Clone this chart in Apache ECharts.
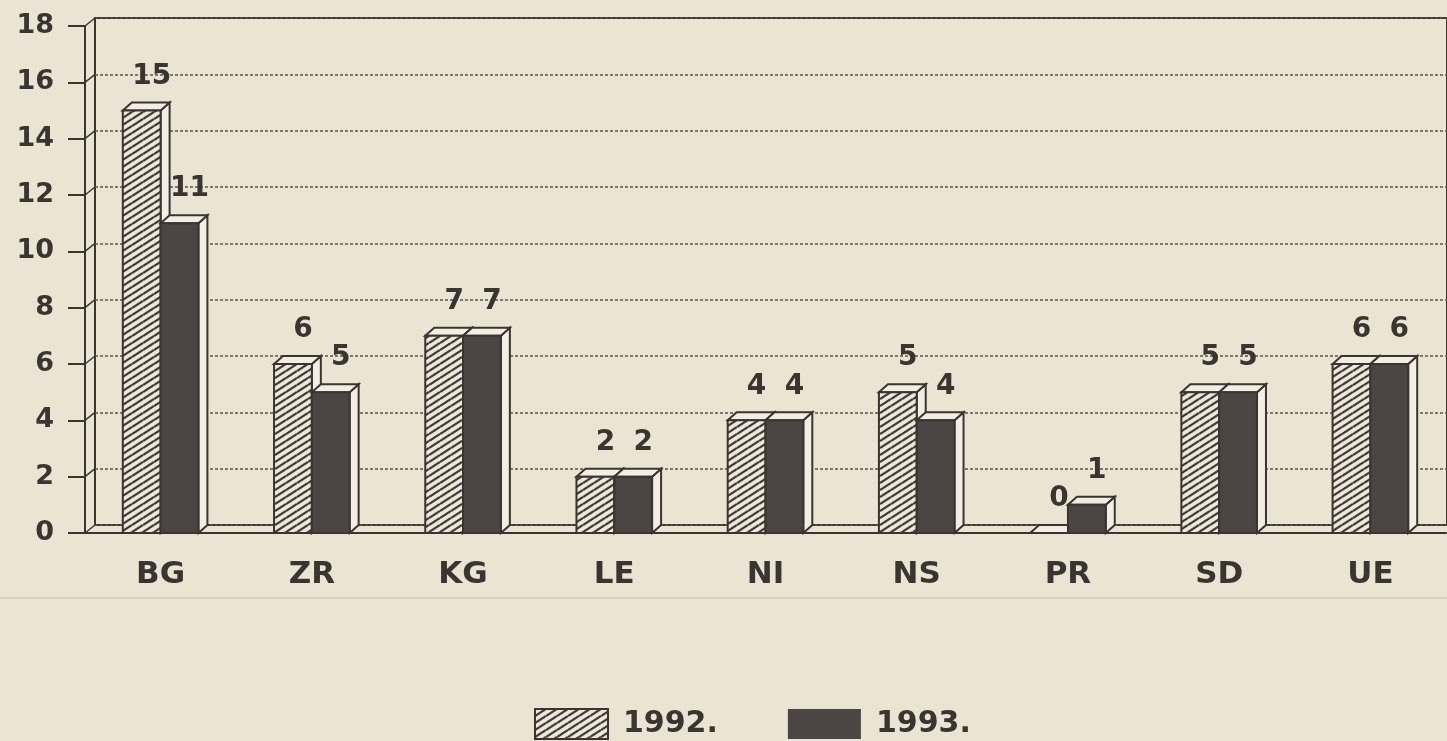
<!DOCTYPE html>
<html>
<head>
<meta charset="utf-8">
<script src="https://cdn.jsdelivr.net/npm/echarts@6/dist/echarts.min.js"></script>
<style>
html,body{margin:0;padding:0;background:#ece4d2;}
#main{width:1447px;height:741px;}
</style>
</head>
<body>
<div id="main"></div>
<script>
var categories = ['BG','ZR','KG','LE','NI','NS','PR','SD','UE'];
var values1992 = [15,6,7,2,4,5,0,5,6];
var values1993 = [11,5,7,2,4,4,1,5,6];
var yTicks = [0,2,4,6,8,10,12,14,16,18];
var seriesNames = ['1992.','1993.'];

var INK = '#3b3431';
var FACE = '#f3eee4';
var DARK = '#4b4643';
var DX = 9, DY = 8; // 3D depth of the bars

// hatch fill for 1992 (lines rising to the right)
function makeHatch(){
	var w = 11, h = 7;
	var c = document.createElement('canvas');
	c.width = w; c.height = h;
	var ctx = c.getContext('2d');
	ctx.fillStyle = '#eee8db';
	ctx.fillRect(0,0,w,h);
	ctx.strokeStyle = '#433c38';
	ctx.lineWidth = 2.3;
	[-h,0,h].forEach(function(off){
		ctx.beginPath();
		ctx.moveTo(0, h+off);
		ctx.lineTo(w, off);
		ctx.stroke();
	});
	return {image: c, repeat: 'repeat'};
}
var hatch = makeHatch();

function barRenderer(slot, fill){
	return function(params, api){
		var i = api.value(0);
		var v = api.value(1);
		var top = api.coord([i, v]);
		var base = api.coord([i, 0]);
		var bw = api.size([1, 0])[0] * 0.25;
		var x0 = top[0] - bw + slot * bw;
		var x1 = x0 + bw;
		var yt = top[1], yb = base[1];
		return {
			type: 'group',
			children: [
				{type:'polygon', shape:{points:[[x1,yt],[x1+DX,yt-DY],[x1+DX,yb-DY],[x1,yb]]},
					style:{fill:FACE, stroke:INK, lineWidth:2}},
				{type:'polygon', shape:{points:[[x0,yt],[x0+DX,yt-DY],[x1+DX,yt-DY],[x1,yt]]},
					style:{fill:FACE, stroke:INK, lineWidth:2}},
				{type:'rect', shape:{x:x0, y:yt, width:bw, height:yb-yt},
					style:{fill:fill, stroke:INK, lineWidth:2}},
				{type:'text', style:{text:String(v), x:(x0+x1)/2+10, y:yt-34, align:'center', verticalAlign:'middle',
					font:'bold 28px "DejaVu Sans"', fill:INK}}
			]
		};
	};
}

function wallRenderer(params, api){
	var p = api.coord([0, api.value(1)]);
	var x = params.coordSys.x;
	return {type:'line', shape:{x1:x, y1:p[1], x2:x+10, y2:p[1]-8}, style:{stroke:INK, lineWidth:1.5}};
}

var myChart = echarts.init(document.getElementById('main'));
var option = {
	animation: false,
	backgroundColor: '#ece4d2',
	grid: [
		{left: 85, right: 1, top: 26, bottom: 208},
		{left: 95, right: -20, top: 18, bottom: 216, show: true, borderColor: INK, borderWidth: 2, backgroundColor: 'transparent'}
	],
	legend: {
		data: [
			{name: seriesNames[0], itemStyle: {color: hatch, borderColor: INK, borderWidth: 2}},
			{name: seriesNames[1], itemStyle: {color: DARK, borderColor: DARK, borderWidth: 0}}
		],
		icon: 'rect',
		left: 529,
		top: 703,
		itemWidth: 73,
		itemHeight: 30,
		itemGap: 70,
		selectedMode: false,
		textStyle: {fontFamily: 'DejaVu Sans', fontWeight: 'bold', fontSize: 30, color: INK, padding: [0,0,0,10]}
	},
	xAxis: [
		{
			type: 'category',
			gridIndex: 0,
			data: categories,
			axisLine: {lineStyle: {color: INK, width: 2}},
			axisTick: {alignWithLabel: true, length: 14, lineStyle: {color: INK, width: 2}},
			axisLabel: {fontFamily: 'DejaVu Sans', fontWeight: 'bold', fontSize: 31, color: INK, margin: 26, interval: 0},
			splitLine: {show: false}
		},
		{type: 'value', gridIndex: 1, show: false, min: 0, max: 1}
	],
	yAxis: [
		{
			type: 'value',
			gridIndex: 0,
			min: 0, max: 18, interval: 2,
			axisLine: {show: true, lineStyle: {color: INK, width: 2}},
			axisTick: {show: true, length: 17, lineStyle: {color: INK, width: 2}},
			axisLabel: {fontFamily: 'DejaVu Sans', fontWeight: 'bold', fontSize: 27, color: INK, margin: 31},
			splitLine: {show: false}
		},
		{
			type: 'value',
			gridIndex: 1,
			min: 0, max: 18, interval: 2,
			axisLine: {show: false},
			axisTick: {show: false},
			axisLabel: {show: false},
			splitLine: {show: true, lineStyle: {color: '#5b524c', width: 1.5, type: [3, 2]}}
		}
	],
	series: [
		{
			name: 'wall',
			type: 'custom',
			xAxisIndex: 0, yAxisIndex: 0,
			silent: true,
			renderItem: wallRenderer,
			data: yTicks.map(function(v){ return [0, v]; })
		},
		{
			name: seriesNames[0],
			type: 'custom',
			xAxisIndex: 0, yAxisIndex: 0,
			itemStyle: {color: hatch},
			renderItem: barRenderer(0, hatch),
			encode: {x: 0, y: 1},
			data: values1992.map(function(v, i){ return [i, v]; })
		},
		{
			name: seriesNames[1],
			type: 'custom',
			xAxisIndex: 0, yAxisIndex: 0,
			itemStyle: {color: DARK},
			renderItem: barRenderer(1, DARK),
			encode: {x: 0, y: 1},
			data: values1993.map(function(v, i){ return [i, v]; })
		}
	],
	graphic: [
		{type: 'line', silent: true, shape: {x1: 0, y1: 598, x2: 1447, y2: 598}, style: {stroke: '#d2cab8', lineWidth: 1.5}}
	]
};
myChart.setOption(option);
window.addEventListener('resize', function(){ myChart.resize(); });
</script>
</body>
</html>
